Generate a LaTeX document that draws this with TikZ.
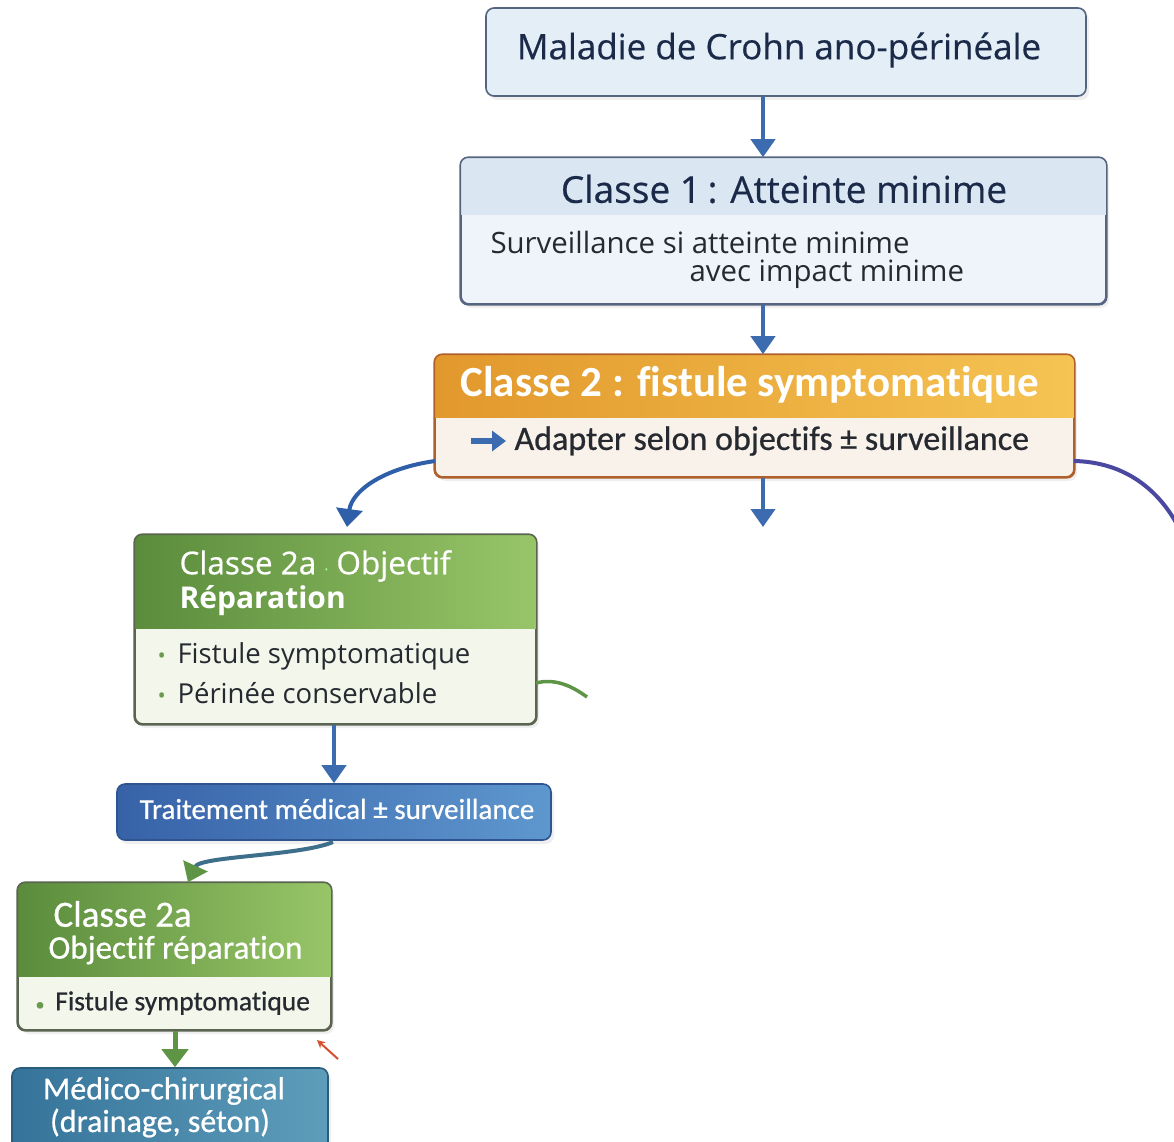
\documentclass[tikz,border=0pt]{standalone}
\usepackage{fontspec}
\setmainfont{Open Sans}
\newfontfamily\osmed[FakeBold=0.5]{Open Sans}
\newfontfamily\calib[Ligatures={NoCommon,NoDiscretionary}]{Carlito}
\newfontfamily\calibm[FakeBold=0.7,Ligatures={NoCommon,NoDiscretionary}]{Carlito}
\usetikzlibrary{arrows.meta,shadows}
\newcommand{\fsz}[1]{\fontsize{#1}{#1}\selectfont}
\definecolor{navy}{HTML}{1C2A4A}
\definecolor{bone}{HTML}{E4EEF7}
\definecolor{bborder}{HTML}{56657F}
\definecolor{btwohead}{HTML}{DAE7F3}
\definecolor{btwobody}{HTML}{EEF4FA}
\definecolor{arrblue}{HTML}{3D6BB0}
\definecolor{orL}{HTML}{E2982C}
\definecolor{orR}{HTML}{F5C453}
\definecolor{orbody}{HTML}{F8F2EA}
\definecolor{orborder}{HTML}{B0602A}
\definecolor{grL}{HTML}{5A8C3C}
\definecolor{grR}{HTML}{98C568}
\definecolor{grbody}{HTML}{F3F6EB}
\definecolor{grborder}{HTML}{5A6450}
\definecolor{bullet}{HTML}{6A9A50}
\definecolor{bluL}{HTML}{3762A8}
\definecolor{bluR}{HTML}{5E97CE}
\definecolor{bluborder}{HTML}{2E5590}
\definecolor{tealL}{HTML}{35739A}
\definecolor{tealR}{HTML}{5E9DBA}
\definecolor{purp}{HTML}{4A48A0}
\definecolor{darkblue}{HTML}{2F5FA8}
\definecolor{arrgreen}{HTML}{5E9445}
\definecolor{redarr}{HTML}{D85030}
\definecolor{txt}{HTML}{262A30}
\tikzset{
  boxbase/.style={rounded corners=8pt, inner sep=0pt, line width=1.6pt,
     drop shadow={opacity=0.12, shadow xshift=3pt, shadow yshift=-4pt}},
  conn/.style={line width=4pt, arrblue, -{Triangle[width=24pt,length=18pt]}},
  greenconn/.style={line width=5pt, arrgreen, -{Triangle[width=26pt,length=18pt]}},
}
\begin{document}
\begin{tikzpicture}[x=1pt,y=-1pt]
\useasboundingbox[fill=white] (0,0) rectangle (1174,1141);

% ---------- Box 1
\node[boxbase, fill=bone, draw=bborder, minimum width=600pt, minimum height=88pt] (b1) at (786,52) {};
\node[text=navy, font=\osmed\fsz{35}] (t1) at (779,50) {Maladie de Crohn ano-périnéale};

% ---------- Box 2
\node[boxbase, fill=btwobody, draw=bborder, minimum width=645pt, minimum height=146pt] (b2) at (783.5,231) {};
\begin{scope}
\clip[rounded corners=8pt] (b2.north west) rectangle (b2.south east);
\fill[btwohead] (b2.north west) rectangle (b2.east |- 0,215);
\end{scope}
\draw[rounded corners=8pt, line width=1.6pt, bborder] (b2.north west) rectangle (b2.south east);
\node[text=navy, font=\osmed\fsz{37}] (t2) at (784,189) {Classe 1\kern-3pt{} : Atteinte minime};
\node[text=txt, font=\fsz{29.4}, anchor=west] (t2a) at (487,242) {Surveillance si atteinte minime};
\node[text=txt, font=\fsz{29.4}, anchor=west] (t2b) at (686,274) {avec impact minime};

% ---------- Box 3
\node[boxbase, fill=orbody, draw=orborder, minimum width=639pt, minimum height=122pt] (b3) at (754.5,416) {};
\begin{scope}
\clip[rounded corners=8pt] (b3.north west) rectangle (b3.south east);
\shade[left color=orL, right color=orR] (b3.north west) rectangle (b3.east |- 0,417);
\end{scope}
\draw[rounded corners=8pt, line width=1.6pt, orborder] (b3.north west) rectangle (b3.south east);
\node[text=white, font=\calib\bfseries\fsz{43}] (t3) at (750,385) {Classe 2 : fistule symptomatique};
\coordinate (ic1) at (471,441);
\coordinate (ic2) at (506,441);
\draw[line width=6pt, arrblue, -{Triangle[width=20pt,length=14pt]}] (ic1) -- (ic2);
\node[text=txt, font=\calibm\fsz{34}, anchor=west] (t3a) at (511,441) {Adapter selon objectifs ± surveillance};

% ---------- Box 4
\node[boxbase, fill=grbody, draw=grborder, minimum width=401pt, minimum height=189pt] (b4) at (335.5,629.5) {};
\begin{scope}
\clip[rounded corners=8pt] (b4.north west) rectangle (b4.south east);
\shade[left color=grL, right color=grR] (b4.north west) rectangle (b4.east |- 0,628);
\end{scope}
\draw[rounded corners=8pt, line width=1.6pt, grborder] (b4.north west) rectangle (b4.south east);
\node[text=white, anchor=west, font=\osmed\fsz{31.5}] (t4) at (176,566) {Classe 2a \textcolor{white!70!green}{\fsz{14}·} Objectif};
\node[text=white, anchor=west, font=\bfseries\fsz{30}] (t4b) at (176,601) {Réparation};
\node[text=txt, anchor=west, font=\fsz{27.5}] (t4c) at (154,656) {\textcolor{bullet}{\fsz{22}•}\, Fistule symptomatique};
\node[text=txt, anchor=west, font=\fsz{27.5}] (t4d) at (154,693) {\textcolor{bullet}{\fsz{22}•}\, Périnée conservable};

% ---------- Box 5
\node[boxbase, draw=bluborder, left color=bluL, right color=bluR, minimum width=434pt, minimum height=56pt] (b5) at (334,812) {};
\node[text=white, font=\calibm\fsz{29}] (t5) at (337,809) {Traitement médical ± surveillance};

% ---------- Box 6
\node[boxbase, fill=grbody, draw=grborder, minimum width=313pt, minimum height=147pt] (b6) at (174.5,956.5) {};
\begin{scope}
\clip[rounded corners=8pt] (b6.north west) rectangle (b6.south east);
\shade[left color=grL, right color=grR] (b6.north west) rectangle (b6.east |- 0,976);
\end{scope}
\draw[rounded corners=8pt, line width=1.6pt, grborder] (b6.north west) rectangle (b6.south east);
\node[text=white, anchor=west, font=\calibm\fsz{37}] (t6) at (50,914) {Classe 2a};
\node[text=white, anchor=west, font=\calibm\fsz{33}] (t6b) at (45,950) {Objectif réparation};
\node[text=txt, anchor=west, font=\calibm\fsz{27.5}] (t6c) at (32,1003) {\textcolor{bullet}{\fsz{18}•}\, Fistule symptomatique};

% ---------- Box 7
\node[boxbase, draw=tealL!80!black, left color=tealL, right color=tealR, minimum width=316pt, minimum height=92pt] (b7) at (170,1114) {};
\node[text=white, font=\calibm\fsz{32}] (t7) at (164,1091) {Médico-chirurgical};
\node[text=white, font=\calibm\fsz{32}] (t7b) at (160,1123) {(drainage, séton)};

% ---------- Connectors
\draw[conn] (b1.south -| 763,0) -- (b2.north -| 763,0);
\draw[conn] (b2.south -| 763,0) -- (b3.north -| 763,0);
\coordinate (midend) at (763,527);
\draw[conn] (b3.south -| 763,0) -- (midend);
\coordinate (leftstart) at (435,461);
\coordinate (leftend) at (347,527);
\draw[line width=4pt, darkblue, -{Triangle[width=26pt,length=18pt]}] (leftstart) .. controls (385,468) and (352,490) .. (leftend);
\coordinate (rightstart) at (1074,461);
\coordinate (rightend) at (1180,530);
\draw[line width=4pt, purp] (rightstart) .. controls (1125,462) and (1160,490) .. (rightend);
\coordinate (grstart) at (536,683);
\coordinate (grend) at (587,697);
\draw[line width=3.5pt, arrgreen] (grstart) .. controls (555,678) and (572,686) .. (grend);
\draw[conn] (b4.south -| 334,0) -- (b5.north -| 334,0);
\coordinate (c5) at (333,842);
\draw[line width=4pt, darkblue!70!arrgreen, -{Triangle[width=26pt,length=18pt,color=arrgreen]}] (c5) .. controls (300,856) and (200,856) .. (b6.north -| 188,0);
\draw[greenconn] (b6.south -| 175,0) -- (b7.north -| 175,0);
\coordinate (ra1) at (338,1059);
\coordinate (ra2) at (317,1040);
\draw[line width=2pt, redarr, -{Stealth[length=8pt,width=8pt]}] (ra1) -- (ra2);
\end{tikzpicture}
\end{document}
